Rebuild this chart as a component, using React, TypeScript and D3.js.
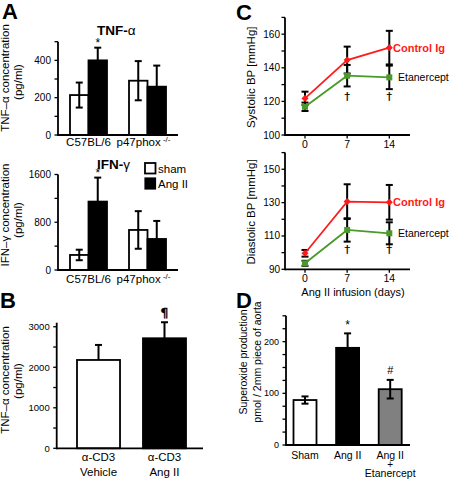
import React from "react";
import * as d3 from "d3";

const FONT = "Liberation Sans, Arial, Helvetica, sans-serif";

// Panel A data
const aGroups = ["C57BL/6", "p47phox"];
const aSeries = ["sham", "Ang II"];
const tnfSham = [214, 291];
const tnfShamErr = [67, 105];
const tnfAng = [400, 259];
const tnfAngErr = [68, 113];
const ifnSham = [252, 671];
const ifnShamErr = [88, 315];
const ifnAng = [1146, 520];
const ifnAngErr = [402, 302];

// Panel B data
const bCats = ["Vehicle", "Ang II"];
const bVals = [2180, 2716];
const bErr = [371, 395];

// Panel C data
const days = [0, 7, 14];
const sysCtrl = [121.8, 144.6, 152.0];
const sysCtrlErr = [4, 8, 10];
const sysEtan = [116.8, 135.3, 134.3];
const sysEtanErr = [2.5, 6.4, 7];
const diaCtrl = [99.6, 130.6, 130.2];
const diaCtrlErr = [2, 10.4, 10.4];
const diaEtan = [93.6, 113.6, 111.6];
const diaEtanErr = [1.5, 7, 6.6];

// Panel D data
const dCats = ["Sham", "Ang II", "Ang II + Etanercept"];
const dVals = [87, 188, 108];
const dErr = [7, 28, 18];

const RED = "#ff1a1a";
const GREEN = "#4a9a2a";

function YAxis({ x, scale, ticks, labels, fontSize, labelGap, top, fmt }) {
  const [y0] = scale.range();
  const yTop = scale(top);
  return (
    <g>
      <line x1={x} x2={x} y1={y0 + 1} y2={yTop} stroke="#000" strokeWidth={1.8} />
      {ticks.map((t) => (
        <line key={"t" + t} x1={x - 3.5} x2={x} y1={scale(t)} y2={scale(t)} stroke="#000" strokeWidth={1.3} />
      ))}
      {labels.map((t) => (
        <text key={"l" + t} x={x - labelGap} y={scale(t)} dy="0.35em" textAnchor="end" fontSize={fontSize} fontFamily={FONT} fill="#000">
          {fmt ? fmt(t) : t}
        </text>
      ))}
    </g>
  );
}

function XLine({ y, x1, x2 }) {
  return <line x1={x1} x2={x2} y1={y} y2={y} stroke="#000" strokeWidth={1.8} />;
}

function Bar({ x, w, yScale, v, err, fill, down }) {
  const y = yScale(v);
  const y0 = yScale.range()[0];
  const cx = x + w / 2;
  const yUp = yScale(v + err);
  const yDn = down ? yScale(v - err) : y;
  return (
    <g>
      <rect x={x} y={y} width={w} height={y0 - y} fill={fill} stroke="#000" strokeWidth={1.8} />
      <line x1={cx} x2={cx} y1={yUp} y2={yDn} stroke="#000" strokeWidth={2} />
      <line x1={cx - 3.5} x2={cx + 3.5} y1={yUp} y2={yUp} stroke="#000" strokeWidth={2} />
      {down && <line x1={cx - 3.5} x2={cx + 3.5} y1={yDn} y2={yDn} stroke="#000" strokeWidth={2} />}
    </g>
  );
}

function RotLabel({ x, y, size, children }) {
  return (
    <text transform={`translate(${x},${y}) rotate(-90)`} textAnchor="middle" fontSize={size} fontFamily={FONT} fill="#000">
      {children}
    </text>
  );
}

function PanelA() {
  const xG = d3.scaleBand().domain(aGroups).range([70, 166]).paddingInner(0.373);
  const xS = d3.scaleBand().domain(aSeries).range([0, xG.bandwidth()]);
  const yT = d3.scaleLinear().domain([0, 500]).range([135, 41.7]);
  const yI = d3.scaleLinear().domain([0, 1600]).range([270, 174.5]);
  const tnfTicks = d3.range(0, 501, 100);
  const ifnTicks = d3.range(0, 1601, 400);
  const drawBars = (yS, sham, shamErr, ang, angErr) =>
    aGroups.map((g, i) => (
      <g key={g}>
        <Bar x={xG(g) + xS("sham")} w={xS.bandwidth()} yScale={yS} v={sham[i]} err={shamErr[i]} fill="#fff" down />
        <Bar x={xG(g) + xS("Ang II")} w={xS.bandwidth()} yScale={yS} v={ang[i]} err={angErr[i]} fill="#000" down />
      </g>
    ));
  const xLabels = (y) =>
    aGroups.map((g, i) => (
      <text key={g} x={xG(g) + xG.bandwidth() / 2 + (i === 1 ? -4 : 0)} y={y} textAnchor="middle" fontSize={11.5} fontFamily={FONT} fill="#000">
        {g}
        {i === 1 && (
          <tspan fontSize={8} dy={-4}> -/-</tspan>
        )}
      </text>
    ));
  const angX = xG("C57BL/6") + xS("Ang II") + xS.bandwidth() / 2;
  return (
    <g>
      <text x={2} y={19} fontSize={22} fontWeight="bold" fontFamily={FONT}>A</text>
      <text x={97} y={35} fontSize={13.5} fontFamily={FONT}>
        <tspan fontWeight="bold">TNF-</tspan>
        <tspan>α</tspan>
      </text>
      <text x={angX} y={yT(tnfAng[0] + tnfAngErr[0]) - 0.5} textAnchor="middle" fontSize={12} fontFamily={FONT}>*</text>
      <RotLabel x={9} y={78} size={11.5}>TNF–α concentration</RotLabel>
      <RotLabel x={22} y={82} size={11.5}>(pg/ml)</RotLabel>
      <YAxis x={58} scale={yT} ticks={tnfTicks} labels={[0, 200, 400]} fontSize={10} labelGap={7} top={500} />
      {drawBars(yT, tnfSham, tnfShamErr, tnfAng, tnfAngErr)}
      <XLine y={135} x1={58} x2={178} />
      {xLabels(146)}

      <text x={97} y={169} fontSize={13.5} fontFamily={FONT}>
        <tspan fontWeight="bold">IFN-</tspan>
        <tspan>γ</tspan>
      </text>
      <text x={angX} y={yI(ifnAng[0] + ifnAngErr[0]) - 0.5} textAnchor="middle" fontSize={12} fontFamily={FONT}>*</text>
      <rect x={145} y={163} width={10.5} height={10.5} fill="#fff" stroke="#000" strokeWidth={1.8} />
      <rect x={145} y={178} width={10.5} height={11} fill="#000" stroke="#000" strokeWidth={1.2} />
      <text x={158} y={172.5} fontSize={11.5} fontFamily={FONT}>sham</text>
      <text x={158} y={188} fontSize={11.5} fontFamily={FONT}>Ang II</text>
      <RotLabel x={9} y={215} size={11.5}>IFN–γ concentration</RotLabel>
      <RotLabel x={22} y={220} size={11.5}>(pg/ml)</RotLabel>
      <YAxis x={58} scale={yI} ticks={ifnTicks} labels={[0, 800, 1600]} fontSize={10} labelGap={7} top={1600} />
      {drawBars(yI, ifnSham, ifnShamErr, ifnAng, ifnAngErr)}
      <XLine y={270} x1={58} x2={178} />
      {xLabels(283)}
    </g>
  );
}

function PanelB() {
  const x = d3.scaleBand().domain(bCats).range([77, 186]).paddingInner(0.348);
  const y = d3.scaleLinear().domain([0, 3100]).range([448.3, 322.7]);
  const ticks = d3.range(0, 3001, 500);
  return (
    <g>
      <text x={0} y={308} fontSize={22} fontWeight="bold" fontFamily={FONT}>B</text>
      <RotLabel x={9} y={380} size={11.5}>TNF–α concentration</RotLabel>
      <RotLabel x={22} y={381} size={11.5}>(pg/ml)</RotLabel>
      <YAxis x={56.7} scale={y} ticks={ticks} labels={[0, 1000, 2000, 3000]} fontSize={9.5} labelGap={7} top={3100} />
      {bCats.map((c, i) => (
        <Bar key={c} x={x(c)} w={x.bandwidth()} yScale={y} v={bVals[i]} err={bErr[i]} fill={i === 0 ? "#fff" : "#000"} down={false} />
      ))}
      <XLine y={448.3} x1={56.7} x2={203} />
      <text x={x("Ang II") + x.bandwidth() / 2} y={y(bVals[1] + bErr[1]) - 5} textAnchor="middle" fontSize={13} fontFamily="DejaVu Sans, sans-serif" fill="#000" stroke="#000" strokeWidth={0.4}>¶</text>
      {bCats.map((c) => (
        <g key={c}>
          <text x={x(c) + x.bandwidth() / 2} y={461} textAnchor="middle" fontSize={11.5} fontFamily={FONT}>α-CD3</text>
          <text x={x(c) + x.bandwidth() / 2} y={476} textAnchor="middle" fontSize={11.5} fontFamily={FONT}>{c}</text>
        </g>
      ))}
    </g>
  );
}

function LinePanel({ yScale, ticks, labels, top, ctrl, ctrlErr, etan, etanErr, label, daggerY }) {
  const x = d3.scaleLinear().domain([0, 14]).range([305, 389.3]);
  const line = d3.line().x((d) => x(d[0])).y((d) => yScale(d[1]));
  const y0 = yScale.range()[0];
  const errBars = (vals, errs) =>
    days.map((d, i) => {
      const cx = x(d);
      const a = yScale(vals[i] + errs[i]);
      const b = yScale(vals[i] - errs[i]);
      return (
        <g key={d}>
          <line x1={cx} x2={cx} y1={a} y2={b} stroke="#000" strokeWidth={2} />
          <line x1={cx - 3.5} x2={cx + 3.5} y1={a} y2={a} stroke="#000" strokeWidth={2} />
          <line x1={cx - 3.5} x2={cx + 3.5} y1={b} y2={b} stroke="#000" strokeWidth={2} />
        </g>
      );
    });
  const cData = days.map((d, i) => [d, ctrl[i]]);
  const eData = days.map((d, i) => [d, etan[i]]);
  return (
    <g>
      <YAxis x={285} scale={yScale} ticks={ticks} labels={labels} fontSize={10} labelGap={5} top={top} />
      <XLine y={y0} x1={285} x2={410} />
      {days.map((d) => (
        <g key={d}>
          <line x1={x(d)} x2={x(d)} y1={y0} y2={y0 + 3.5} stroke="#000" strokeWidth={1.3} />
          <text x={x(d)} y={y0 + 13} textAnchor="middle" fontSize={10.5} fontFamily={FONT}>{d}</text>
        </g>
      ))}
      {errBars(ctrl, ctrlErr)}
      {errBars(etan, etanErr)}
      <path d={line(cData)} fill="none" stroke={RED} strokeWidth={1.7} />
      <path d={line(eData)} fill="none" stroke={GREEN} strokeWidth={1.8} />
      {cData.map((d) => (
        <rect key={"c" + d[0]} x={x(d[0]) - 2.5} y={yScale(d[1]) - 2.5} width={5} height={5} fill={RED} transform={`rotate(45 ${x(d[0])} ${yScale(d[1])})`} />
      ))}
      {eData.map((d) => (
        <rect key={"e" + d[0]} x={x(d[0]) - 3} y={yScale(d[1]) - 3} width={6} height={6} fill={GREEN} />
      ))}
      {[7, 14].map((d) => (
        <text key={"dg" + d} x={x(d)} y={daggerY} textAnchor="middle" fontSize={11} fontFamily="DejaVu Sans, sans-serif" fill="#000" stroke="#000" strokeWidth={0.2}>†</text>
      ))}
      <text x={393} y={yScale(ctrl[2]) + 4} fontSize={11} fontWeight="bold" fill={RED} fontFamily={FONT}>Control Ig</text>
      <text x={398} y={yScale(etan[2]) + 4} fontSize={10.5} fontFamily={FONT}>Etanercept</text>
      <RotLabel x={255} y={(y0 + yScale(top)) / 2 + 1} size={11.5}>{label}</RotLabel>
    </g>
  );
}

function PanelC() {
  const ySys = d3.scaleLinear().domain([100, 170]).range([135, 17.4]);
  const yDia = d3.scaleLinear().domain([90, 160]).range([269.3, 152.6]);
  return (
    <g>
      <text x={236} y={20} fontSize={22} fontWeight="bold" fontFamily={FONT}>C</text>
      <LinePanel yScale={ySys} ticks={d3.range(100, 171, 10)} labels={[100, 120, 140, 160]} top={170}
        ctrl={sysCtrl} ctrlErr={sysCtrlErr} etan={sysEtan} etanErr={sysEtanErr} label="Systolic BP [mmHg]" daggerY={100} />
      <LinePanel yScale={yDia} ticks={d3.range(90, 161, 10)} labels={[90, 110, 130, 150]} top={160}
        ctrl={diaCtrl} ctrlErr={diaCtrlErr} etan={diaEtan} etanErr={diaEtanErr} label="Diastolic BP [mmHg]" daggerY={253} />
      <text x={353} y={296} textAnchor="middle" fontSize={11} fontFamily={FONT}>Ang II infusion (days)</text>
    </g>
  );
}

function PanelD() {
  const x = d3.scaleBand().domain(dCats).range([293.5, 401.7]).paddingInner(0.46);
  const y = d3.scaleLinear().domain([0, 250]).range([445, 315.8]);
  const fills = ["#fff", "#000", "#808080"];
  const cx = (c) => x(c) + x.bandwidth() / 2;
  return (
    <g>
      <text x={236} y={308} fontSize={22} fontWeight="bold" fontFamily={FONT}>D</text>
      <RotLabel x={247} y={362} size={10.5}>Superoxide production</RotLabel>
      <RotLabel x={261} y={362} size={10.5}>pmol / 2mm piece of aorta</RotLabel>
      <YAxis x={286} scale={y} ticks={d3.range(0, 251, 25)} labels={[0, 100, 200]} fontSize={9} labelGap={7} top={250} />
      {dCats.map((c, i) => (
        <Bar key={c} x={x(c)} w={x.bandwidth()} yScale={y} v={dVals[i]} err={dErr[i]} fill={fills[i]} down={i !== 1} />
      ))}
      <XLine y={445} x1={286} x2={410} />
      <text x={cx("Ang II")} y={y(dVals[1] + dErr[1]) - 4} textAnchor="middle" fontSize={12} fontFamily={FONT}>*</text>
      <text x={cx(dCats[2])} y={y(dVals[2] + dErr[2]) - 6} textAnchor="middle" fontSize={11} fontFamily={FONT}>#</text>
      <text x={cx("Sham")} y={459} textAnchor="middle" fontSize={10.5} fontFamily={FONT}>Sham</text>
      <text x={cx("Ang II")} y={459} textAnchor="middle" fontSize={10.5} fontFamily={FONT}>Ang II</text>
      <text x={cx(dCats[2])} y={459} textAnchor="middle" fontSize={10.5} fontFamily={FONT}>Ang II</text>
      <text x={cx(dCats[2])} y={467.5} textAnchor="middle" fontSize={10} fontFamily={FONT}>+</text>
      <text x={cx(dCats[2])} y={477} textAnchor="middle" fontSize={10.5} fontFamily={FONT}>Etanercept</text>
    </g>
  );
}

export default function App() {
  return (
    <svg width={450} height={479} style={{ position: "absolute", left: 0, top: 0, background: "#fff" }}>
      <rect width={450} height={479} fill="#fff" />
      <PanelA />
      <PanelB />
      <PanelC />
      <PanelD />
    </svg>
  );
}
